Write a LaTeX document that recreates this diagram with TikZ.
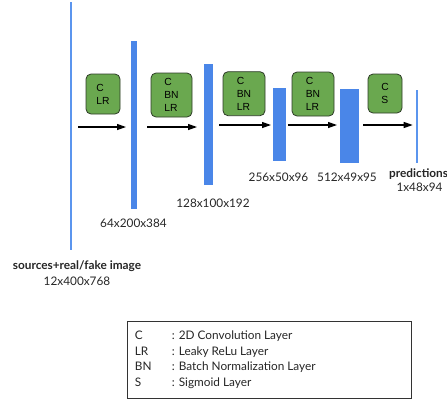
\documentclass[tikz,border=0pt]{standalone}
\usepackage{fontspec}
\setmainfont{Lato}
\newfontfamily\boxfont{Liberation Sans}
\usetikzlibrary{arrows.meta}

\definecolor{layerblue}{HTML}{4A86E8}
\definecolor{thinblue}{HTML}{5B95EE}
\definecolor{opgreen}{HTML}{6AA84F}
\definecolor{opedge}{HTML}{2E3B28}

\tikzset{
  bar/.style={rectangle, fill=layerblue, inner sep=0pt, outer sep=0pt},
  thinbar/.style={rectangle, fill=thinblue, inner sep=0pt, outer sep=0pt, minimum width=2pt},
  opbox/.style={rectangle, rounded corners=5pt, draw=opedge, line width=0.8pt,
    fill=opgreen, inner sep=0pt, align=left,
    font=\boxfont\fontsize{10.3}{13}\selectfont},
  arr/.style={-{Triangle[length=9pt,width=6pt]}, line width=1.2pt, black},
  dim/.style={inner sep=0pt, font=\fontsize{11.8}{14}\selectfont, text=black!85},
  dimbold/.style={dim, font=\bfseries\fontsize{11.8}{14}\selectfont},
  legendbox/.style={rectangle, draw=black!80, line width=0.8pt, inner sep=0pt}
}

\begin{document}
\begin{tikzpicture}[x=1pt, y=-1pt]
\useasboundingbox (0,0) rectangle (447,400);

% feature maps
\node[thinbar, minimum height=248pt] (b1) at (71,126) {};
\node[bar, minimum width=6pt,  minimum height=168pt] (b2) at (134,125) {};
\node[bar, minimum width=9pt,  minimum height=121pt] (b3) at (208.5,124.5) {};
\node[bar, minimum width=13pt, minimum height=73pt]  (b4) at (279.5,124.5) {};
\node[bar, minimum width=19pt, minimum height=74pt]  (b5) at (349.5,126) {};
\node[thinbar, minimum height=73pt] (b6) at (416.7,126.5) {};

% operations
\node[opbox, minimum width=34pt, minimum height=40pt] (o1) at (103,94) {C\\LR};
\node[opbox, minimum width=41pt, minimum height=44pt] (o2) at (171.5,95) {C\\BN\\LR};
\node[opbox, minimum width=42pt, minimum height=44pt] (o3) at (244,93.7) {C\\BN\\LR};
\node[opbox, minimum width=42pt, minimum height=44pt] (o4) at (313,94) {C\\BN\\LR};
\node[opbox, minimum width=34pt, minimum height=39pt] (o5) at (385,93.5) {C\\S};

% data flow
\draw[arr] ([xshift=6pt]b1.east |- 0,127) -- ([xshift=-5pt]b2.west |- 0,127);
\draw[arr] ([xshift=10pt]b2.east |- 0,127) -- ([xshift=-7pt]b3.west |- 0,127);
\draw[arr] ([xshift=6pt]b3.east |- 0,125) -- ([xshift=-2pt]b4.west |- 0,125);
\draw[arr] ([xshift=2pt]b4.east |- 0,125) -- ([xshift=-3pt]b5.west |- 0,125);
\draw[arr] ([xshift=4pt]b5.east |- 0,125) -- ([xshift=-3pt]b6.west |- 0,125);

% sizes
\node[dimbold] (l1a) at (77,266) {sources+real/fake image};
\node[dim] (l1b) at (77,281) {12x400x768};
\node[dim] (l2) at (133.5,223) {64x200x384};
\node[dim] (l3) at (213,203) {128x100x192};
\node[dim] (l4) at (278.5,177) {256x50x96};
\node[dim] (l5) at (347,177) {512x49x95};
\node[dimbold, anchor=west] (l6a) at (389,174) {predictions};
\node[dim] (l6b) at (419.5,187) {1x48x94};

% legend
\node[legendbox, minimum width=284pt, minimum height=77pt, anchor=north west] (legend) at (126.7,320.7) {};
\node[anchor=west, inner sep=0pt, text=black!85, font=\fontsize{11.8}{15.5}\selectfont] (legendtext) at ([xshift=8pt, yshift=-0.5pt]legend.west)
  {\begin{tabular}{@{}p{37pt}@{}l@{}}
   C  & : 2D Convolution Layer\\
   LR & : Leaky ReLu Layer\\
   BN & : Batch Normalization Layer\\
   S  & : Sigmoid Layer
   \end{tabular}};
\end{tikzpicture}
\end{document}
